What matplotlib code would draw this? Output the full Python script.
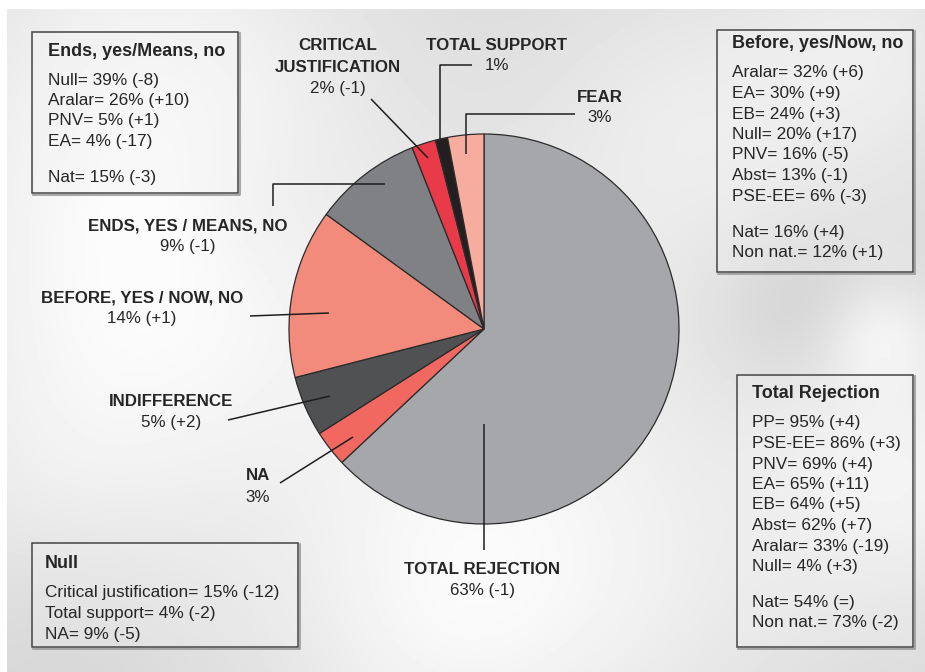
import numpy as np
import matplotlib
matplotlib.use("Agg")
import matplotlib.pyplot as plt
from matplotlib.patches import Rectangle

plt.rcParams['font.family'] = ['Liberation Sans', 'DejaVu Sans']

# ---------------- data ----------------
categories = ["TOTAL REJECTION", "NA", "INDIFFERENCE", "BEFORE, YES / NOW, NO",
              "ENDS, YES / MEANS, NO", "CRITICAL\nJUSTIFICATION", "TOTAL SUPPORT", "FEAR"]
shares = [63, 3, 5, 14, 9, 2, 1, 3]
changes = ["(-1)", "", "(+2)", "(+1)", "(-1)", "(-1)", "", ""]
colors = ["#a6a7ab", "#f06860", "#505153", "#f28b7b", "#808185", "#e83a48", "#231f20", "#f7aca0"]

ends_title = "Ends, yes/Means, no"
ends_lines = ["Null= 39% (-8)", "Aralar= 26% (+10)", "PNV= 5% (+1)", "EA= 4% (-17)"]
ends_extra = ["Nat= 15% (-3)"]

before_title = "Before, yes/Now, no"
before_lines = ["Aralar= 32% (+6)", "EA= 30% (+9)", "EB= 24% (+3)", "Null= 20% (+17)",
                "PNV= 16% (-5)", "Abst= 13% (-1)", "PSE-EE= 6% (-3)"]
before_extra = ["Nat= 16% (+4)", "Non nat.= 12% (+1)"]

rej_title = "Total Rejection"
rej_lines = ["PP= 95% (+4)", "PSE-EE= 86% (+3)", "PNV= 69% (+4)", "EA= 65% (+11)",
             "EB= 64% (+5)", "Abst= 62% (+7)", "Aralar= 33% (-19)", "Null= 4% (+3)"]
rej_extra = ["Nat= 54% (=)", "Non nat.= 73% (-2)"]

null_title = "Null"
null_lines = ["Critical justification= 15% (-12)", "Total support= 4% (-2)", "NA= 9% (-5)"]
null_extra = []

# ---------------- figure ----------------
W, H = 925, 672
fig = plt.figure(figsize=(W / 100, H / 100), dpi=100)
fig.patch.set_facecolor("white")
ax = fig.add_axes([0, 0, 1, 1])
ax.set_xlim(0, W)
ax.set_ylim(0, H)
ax.set_aspect("equal")
ax.axis("off")

def Y(p):
    return H - p

# cloudy background (decorative)
xs = np.linspace(0, W, 300)
ys = np.linspace(0, H, 220)
XX, YY = np.meshgrid(xs, ys)
base = np.full_like(XX, 0.85)
blobs = [(150, 80, 160, 0.10), (120, 330, 150, 0.09), (480, 420, 170, 0.08),
         (700, 120, 120, 0.07), (900, 470, 90, 0.10), (430, 640, 120, 0.07),
         (650, 600, 140, 0.05), (880, 40, 80, 0.06), (40, 520, 110, 0.04),
         (880, 330, 40, 0.08)]
for bx, by, s, a in blobs:
    base += a * np.exp(-((XX - bx) ** 2 + (YY - by) ** 2) / (2 * s ** 2))
dark = [(800, 300, 60, -0.05), (60, 620, 80, -0.03), (250, 200, 60, -0.02)]
for bx, by, s, a in dark:
    base += a * np.exp(-((XX - bx) ** 2 + (YY - by) ** 2) / (2 * s ** 2))
base = np.clip(base, 0, 0.985)
ax.imshow(base, cmap="gray", vmin=0, vmax=1, extent=[7, W, Y(H), Y(9)],
          origin="upper", zorder=0, interpolation="bilinear", aspect="auto")

# pie
cx, cy, R = 484, 329, 195
ax.pie(shares, colors=colors, startangle=90, counterclock=False,
       center=(cx, Y(cy)), radius=R, frame=True,
       wedgeprops=dict(edgecolor="#2b2b2b", linewidth=0.9))
ax.set_xlim(0, W)
ax.set_ylim(0, H)
ax.axis("off")

txtc = "#262626"
lw = 1.1
FS_LAB = 12.2
FS_BOX = 12.4
FS_TIT = 13.0

def label(i, x, y, gap=21):
    name = categories[i]
    val = f"{shares[i]}%" + (f" {changes[i]}" if changes[i] else "")
    lines = name.split("\n")
    for k, ln in enumerate(lines):
        ax.text(x, Y(y + k * gap), ln, ha="center", va="center", fontsize=FS_LAB,
                fontweight="bold", color=txtc, zorder=5)
    ax.text(x, Y(y + len(lines) * gap), val, ha="center", va="center", fontsize=FS_LAB,
            color=txtc, zorder=5)

def leader(pts):
    ax.plot([p[0] for p in pts], [Y(p[1]) for p in pts], color="#1e1e1e", lw=lw, zorder=6,
            solid_capstyle="butt")

label(0, 482, 570)
leader([(484, 550), (484, 424)])
label(1, 258, 476)
leader([(280, 483), (353, 437)])
label(2, 171, 401)
leader([(228, 420), (330, 396)])
label(3, 142, 298)
leader([(250, 316), (329, 313)])
label(4, 188, 226)
leader([(273, 206), (273, 184), (385, 184)])
label(5, 338, 46)
leader([(371, 99), (428, 158)])
label(6, 497, 45)
leader([(472, 65), (440, 65), (440, 139)])
label(7, 600, 97)
leader([(575, 114), (466, 114), (466, 154)])

def box(x0, y0, x1, y1, title, lines, extra, tx, ty, gap=20.5, egap=36):
    ax.add_patch(Rectangle((x0, Y(y1)), x1 - x0, y1 - y0, facecolor="#f2f2f2",
                           alpha=0.30, edgecolor="none", zorder=3))
    # soft shadow on bottom/right edges
    ax.plot([x0 + 1, x1 + 1.5, x1 + 1.5], [Y(y1 + 1.5), Y(y1 + 1.5), Y(y0 + 1)],
            color="#9a9a9a", lw=1.2, zorder=3.5)
    ax.add_patch(Rectangle((x0, Y(y1)), x1 - x0, y1 - y0, facecolor="none",
                           edgecolor="#444444", linewidth=1.1, zorder=4))
    ax.text(tx, Y(ty), title, ha="left", va="center", fontsize=FS_TIT, fontweight="bold",
            color=txtc, zorder=5)
    y = ty + 29
    for ln in lines:
        ax.text(tx, Y(y), ln, ha="left", va="center", fontsize=FS_BOX, color=txtc, zorder=5)
        y += gap
    y += egap - gap
    for ln in extra:
        ax.text(tx, Y(y), ln, ha="left", va="center", fontsize=FS_BOX, color=txtc, zorder=5)
        y += gap

box(32, 32, 238, 193, ends_title, ends_lines, ends_extra, 48, 51)
box(717, 30, 913, 272, before_title, before_lines, before_extra, 732, 44)
box(737, 375, 913, 647, rej_title, rej_lines, rej_extra, 752, 394)
box(32, 543, 298, 647, null_title, null_lines, null_extra, 45, 563, gap=21.5)

fig.savefig("out.png", dpi=100)
